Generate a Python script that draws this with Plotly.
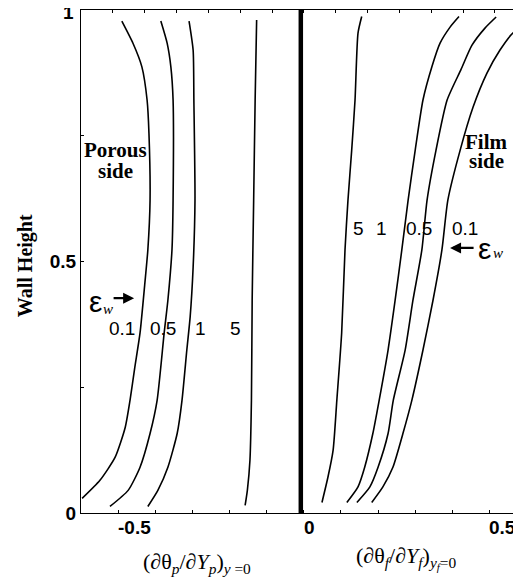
import plotly.graph_objects as go

# ---------------- data ----------------
# Porous side curves (x = d theta_p / dY_p at wall, y = wall height)
porous_eps = ["0.1", "0.5", "1", "5"]
porous_x_01 = [-0.490, -0.460, -0.436, -0.422, -0.417, -0.414, -0.420, -0.428, -0.441, -0.455, -0.468, -0.481, -0.508, -0.549, -0.597]
porous_y_01 = [0.978, 0.934, 0.887, 0.821, 0.755, 0.622, 0.523, 0.457, 0.358, 0.290, 0.224, 0.170, 0.111, 0.065, 0.029]
porous_x_05 = [-0.385, -0.368, -0.358, -0.352, -0.352, -0.355, -0.366, -0.376, -0.395, -0.414, -0.441, -0.473, -0.522]
porous_y_05 = [0.978, 0.934, 0.887, 0.821, 0.622, 0.523, 0.423, 0.358, 0.224, 0.158, 0.091, 0.045, 0.013]
porous_x_1 = [-0.309, -0.298, -0.296, -0.293, -0.298, -0.306, -0.315, -0.328, -0.341, -0.366, -0.393, -0.420]
porous_y_1 = [0.978, 0.920, 0.821, 0.622, 0.489, 0.390, 0.324, 0.224, 0.158, 0.091, 0.045, 0.013]
porous_x_5 = [-0.127, -0.131, -0.135, -0.139, -0.141, -0.145, -0.152, -0.158]
porous_y_5 = [0.980, 0.821, 0.622, 0.423, 0.224, 0.105, 0.045, 0.015]

# Film side curves
film_eps = ["5", "1", "0.5", "0.1"]
film_x_5 = [0.156, 0.146, 0.138, 0.129, 0.119, 0.111, 0.102, 0.089, 0.079, 0.065, 0.049]
film_y_5 = [0.987, 0.954, 0.821, 0.721, 0.622, 0.523, 0.358, 0.224, 0.125, 0.071, 0.021]
film_x_1 = [0.418, 0.394, 0.367, 0.345, 0.321, 0.300, 0.281, 0.264, 0.246, 0.227, 0.203, 0.186, 0.164, 0.146, 0.116]
film_y_1 = [0.987, 0.966, 0.934, 0.887, 0.821, 0.721, 0.622, 0.523, 0.423, 0.324, 0.224, 0.158, 0.091, 0.052, 0.021]
film_x_05 = [0.518, 0.488, 0.453, 0.423, 0.386, 0.356, 0.332, 0.318, 0.294, 0.273, 0.241, 0.227, 0.200, 0.178, 0.143]
film_y_05 = [0.986, 0.964, 0.930, 0.881, 0.821, 0.721, 0.622, 0.523, 0.423, 0.324, 0.224, 0.158, 0.091, 0.052, 0.021]
film_x_01 = [0.623, 0.585, 0.563, 0.528, 0.493, 0.456, 0.421, 0.388, 0.372, 0.348, 0.321, 0.291, 0.267, 0.240, 0.213, 0.183]
film_y_01 = [0.980, 0.964, 0.954, 0.920, 0.874, 0.807, 0.721, 0.622, 0.523, 0.423, 0.324, 0.224, 0.158, 0.091, 0.052, 0.021]

# wall (interface) line position
wall_x = [-0.008, -0.008]
wall_y = [0, 1]

x_tick_vals = [-0.5, 0, 0.5]
x_tick_text = ["-0.5", "0", "0.5"]
y_tick_vals = [0, 0.25, 0.5, 0.75, 1]
y_tick_text = ["0", "", "0.5", "", ""]
y_top_label = "1"

# ---------------- figure ----------------
fig = go.Figure()
line = dict(color="black", width=1.6, shape="spline", smoothing=0.6)
for xs, ys in [(porous_x_01, porous_y_01), (porous_x_05, porous_y_05),
               (porous_x_1, porous_y_1), (porous_x_5, porous_y_5),
               (film_x_5, film_y_5), (film_x_1, film_y_1),
               (film_x_05, film_y_05), (film_x_01, film_y_01)]:
    fig.add_trace(go.Scatter(x=xs, y=ys, mode="lines", line=line, hoverinfo="skip"))

fig.add_trace(go.Scatter(x=wall_x, y=wall_y, mode="lines",
                         line=dict(color="black", width=4.5), hoverinfo="skip"))
# helper trace for the top tick axis
fig.add_trace(go.Scatter(x=[], y=[], xaxis="x2", yaxis="y", mode="lines"))

SANS = "Liberation Sans"
SERIF = "Liberation Serif"

ann = []
# x tick labels (left-aligned at the tick)
for v, t in zip(x_tick_vals, x_tick_text):
    ann.append(dict(x=v, y=0, xref="x", yref="y", text=t, showarrow=False,
                    xanchor="left", yanchor="top", xshift=-2, yshift=-2,
                    font=dict(family=SANS, size=19, color="black", weight="bold")))
# top y tick label (kept visible at the upper edge)
ann.append(dict(x=0, y=1, xref="paper", yref="y", text=y_top_label, showarrow=False,
                xanchor="right", yanchor="middle", xshift=-5, yshift=-2,
                font=dict(family=SANS, size=19, color="black", weight="bold")))

# curve labels
porous_lbl_x = [-0.490, -0.379, -0.277, -0.183]
for v, t in zip(porous_lbl_x, porous_eps):
    ann.append(dict(x=v, y=0.367, xref="x", yref="y", text=t, showarrow=False,
                    font=dict(family=SANS, size=19, color="black")))
film_lbl_x = [0.146, 0.208, 0.310, 0.434]
for v, t in zip(film_lbl_x, film_eps):
    ann.append(dict(x=v, y=0.566, xref="x", yref="y", text=t, showarrow=False,
                    font=dict(family=SANS, size=19, color="black")))

# side labels
for txt, xv, yv in [("Porous", -0.508, 0.722), ("side", -0.508, 0.680),
                    ("Film", 0.491, 0.738), ("side", 0.491, 0.700)]:
    ann.append(dict(x=xv, y=yv, xref="x", yref="y", text=txt, showarrow=False,
                    font=dict(family=SERIF, size=21, color="black", weight="bold")))

# epsilon_w markers with arrows
ann.append(dict(x=-0.457, y=0.427, xref="x", yref="y", text="", showarrow=True,
                ax=-22, ay=0, arrowhead=2, arrowsize=1, arrowwidth=2.2, arrowcolor="black"))
ann.append(dict(x=0.394, y=0.527, xref="x", yref="y", text="", showarrow=True,
                ax=25, ay=0, arrowhead=2, arrowsize=1, arrowwidth=2.2, arrowcolor="black"))
for xv, yv in [(-0.562, 0.420), (0.488, 0.526)]:
    ann.append(dict(x=xv, y=yv, xref="x", yref="y", text="ε", showarrow=False,
                    font=dict(family=SANS, size=30, color="black")))
for xv, yv in [(-0.526, 0.406), (0.522, 0.516)]:
    ann.append(dict(x=xv, y=yv, xref="x", yref="y", text="<i>w</i>", showarrow=False,
                    font=dict(family=SERIF, size=15, color="black")))

# axis titles
ann.append(dict(x=-0.127, y=0.491, xref="paper", yref="paper", text="Wall Height",
                textangle=-90, showarrow=False, xanchor="center", yanchor="middle",
                font=dict(family=SERIF, size=20, color="black", weight="bold")))
ann.append(dict(x=0.2636, y=-0.1, xref="paper", yref="paper",
                text="(∂θ<sub><i>p</i></sub>/∂<i>Y<sub>p</sub></i>)<sub><i>y</i> =0</sub>",
                showarrow=False, xanchor="center", yanchor="middle",
                font=dict(family=SERIF, size=22, color="black")))
ann.append(dict(x=0.7386, y=-0.09, xref="paper", yref="paper",
                text="(∂θ<sub><i>f</i></sub>/∂<i>Y<sub>f</sub></i>)<sub><i>y<sub>f</sub></i>=0</sub>",
                showarrow=False, xanchor="center", yanchor="middle",
                font=dict(family=SERIF, size=22, color="black")))

# the page body adds an 8 px offset, so the figure is 8 px smaller with shifted margins
fig.update_layout(
    width=513, height=571,
    margin=dict(l=73, r=0, t=2, b=66),
    plot_bgcolor="white", paper_bgcolor="white",
    showlegend=False,
    annotations=ann,
    xaxis=dict(range=[-0.6, 0.585], showline=True, linecolor="black", linewidth=1.3,
               ticks="inside", ticklen=3, tickcolor="black", tickwidth=1,
               tick0=0, dtick=0.1, showticklabels=False, showgrid=False, zeroline=False),
    xaxis2=dict(range=[0, 13.82], overlaying="x", side="top", anchor="y",
                showline=True, linecolor="black", linewidth=1.3,
                ticks="inside", ticklen=3, tickcolor="black", tickwidth=1,
                tick0=0, dtick=1, showticklabels=False, showgrid=False, zeroline=False),
    yaxis=dict(range=[0, 1], showline=True, linecolor="black", linewidth=1.3,
               ticks="inside", ticklen=3, tickcolor="black", tickwidth=1,
               tickvals=y_tick_vals, ticktext=y_tick_text,
               tickfont=dict(family=SANS, size=19, color="black", weight="bold"),
               showgrid=False, zeroline=False),
)

fig.write_html("out.html")
